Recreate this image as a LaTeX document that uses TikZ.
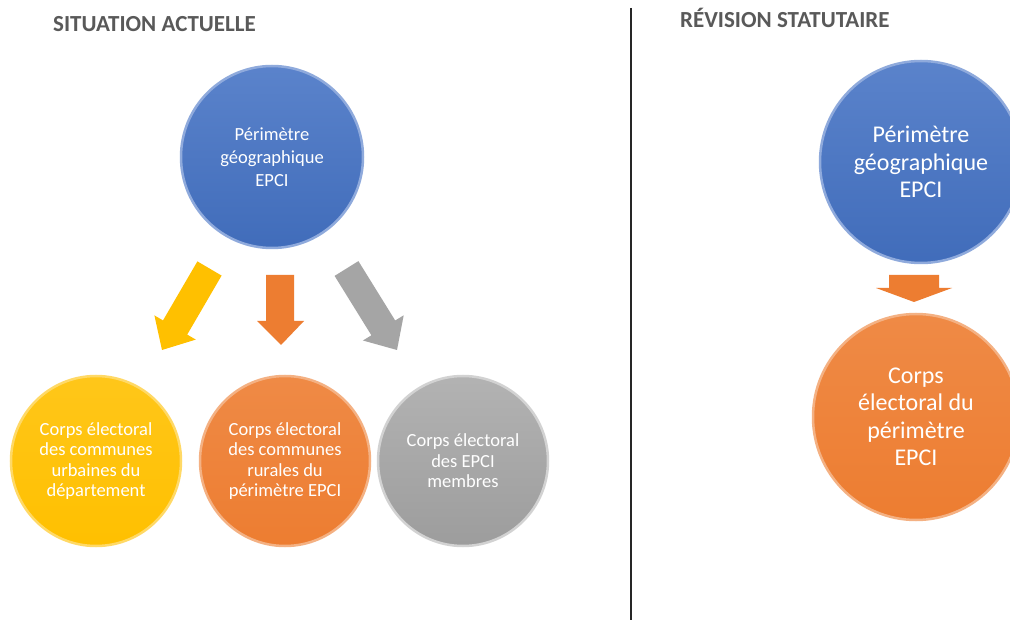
\documentclass[tikz,border=0pt]{standalone}
\usepackage{fontspec}
\setmainfont{Carlito}
\definecolor{cblue}{HTML}{4472C4}
\definecolor{cyellow}{HTML}{FFC000}
\definecolor{corange}{HTML}{ED7D31}
\definecolor{cgray}{HTML}{A5A5A5}
\definecolor{ctitle}{HTML}{595959}
\tikzset{
  disc/.style={circle, inner sep=0pt, minimum size=#1, align=center, text=white, line width=2.5pt},
  bluedisc/.style={disc=#1, top color=cblue!88!white, bottom color=cblue!95!black, draw=cblue!60!white},
  yellowdisc/.style={disc=#1, top color=cyellow!90!white, bottom color=cyellow, draw=cyellow!60!white},
  orangedisc/.style={disc=#1, top color=corange!90!white, bottom color=corange, draw=corange!60!white},
  graydisc/.style={disc=#1, top color=cgray!85!white, bottom color=cgray!95!black, draw=cgray!50!white},
  toptxt/.style={font=\fontsize{18.5}{23}\selectfont},
  smalltxt/.style={font=\fontsize{18.5}{20.5}\selectfont},
  bigtxt/.style={font=\fontsize{24}{27.5}\selectfont},
  title/.style={anchor=base west, text=ctitle, font=\fontsize{23}{27}\selectfont\bfseries, inner sep=0pt}
}
\begin{document}
\begin{tikzpicture}[x=1pt,y=-1pt]
\useasboundingbox (0,0) rectangle (1010,620);
\clip (0,0) rectangle (1010,620);
\fill[white] (0,0) rectangle (1010,620);

% titles
\node[title] (t1) at (53,32) {SITUATION ACTUELLE};
\node[title] (t2) at (680,28) {RÉVISION STATUTAIRE};

% separator
\coordinate (s1) at (631,8);
\coordinate (s2) at (631,620);
\draw[line width=2pt, black!85] (s1) -- (s2);

% left part
\node[bluedisc=182pt, toptxt] (perim) at (272,157) {Périmètre\\géographique\\EPCI};
\node[yellowdisc=170pt, smalltxt] (urb) at (96,461) {\raisebox{-3pt}{\parbox{150pt}{\centering Corps électoral\\des communes\\urbaines du\\département}}};
\node[orangedisc=170pt, smalltxt] (rur) at (285,461) {\raisebox{-3pt}{\parbox{150pt}{\centering Corps électoral\\des communes\\rurales du\\périmètre EPCI}}};
\node[graydisc=170pt, smalltxt] (epci) at (463,461) {\raisebox{-3pt}{\parbox{150pt}{\centering Corps électoral\\des EPCI\\membres}}};

% block arrows
\fill[cyellow] (221.6,275.6) -- (197.4,261.4) -- (163.0,320.4) -- (154.4,315.4) -- (162,350) -- (195.8,339.6) -- (187.2,334.6) -- cycle;
\fill[corange] (266,275) -- (294,275) -- (294,321) -- (304,321) -- (281,345) -- (257,321) -- (266,321) -- cycle;
\fill[cgray] (358.4,261.1) -- (334.6,275.9) -- (371.4,335.3) -- (362.9,340.5) -- (397,350) -- (403.7,315.3) -- (395.2,320.5) -- cycle;

% right part
\node[bluedisc=202pt, bigtxt] (perim2) at (921,162) {Périmètre\\géographique\\EPCI};
\node[orangedisc=206pt, bigtxt] (corps2) at (916,417) {Corps\\électoral du\\périmètre\\EPCI};
\fill[corange] (889,275) -- (939,275) -- (939,288) -- (952,288) -- (914,302) -- (876,288) -- (889,288) -- cycle;
\end{tikzpicture}
\end{document}
